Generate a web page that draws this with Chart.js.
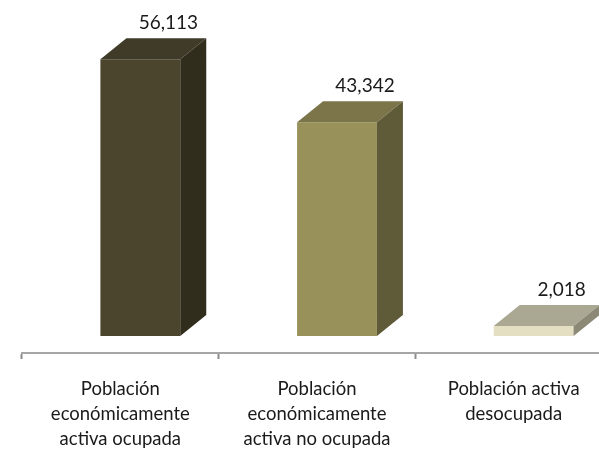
<!DOCTYPE html>
<html>
<head>
<meta charset="utf-8">
<script src="https://cdn.jsdelivr.net/npm/chart.js@4/dist/chart.umd.min.js"></script>
<style>
  html, body { margin: 0; padding: 0; background: #fff; overflow: hidden; }
  .wrap { position: absolute; left: 0; top: 0; width: 640px; height: 450px; }
</style>
</head>
<body>
<div class="wrap"><canvas id="chart"></canvas></div>
<script>
const categories = [
  ["Población", "económicamente", "activa ocupada"],
  ["Población", "económicamente", "activa no ocupada"],
  ["Población activa", "desocupada"]
];
const values = [56113, 43342, 2018];
const valueLabels = ["56,113", "43,342", "2,018"];

const frontColors = ["#4b452e", "#98915a", "#e4dfc3"];
const topColors = ["#3f3b28", "#7b7549", "#aaa792"];
const sideColors = ["#302d1d", "#5f5a38", "#8c8976"];

const depthX = 26;
const depthY = 21;
const frontShift = 20;

// draws top and side faces + value labels
const bars3d = {
  id: "bars3d",
  afterDatasetsUpdate(chart) {
    chart.getDatasetMeta(0).data.forEach((bar) => {
      bar.x += frontShift;
    });
  },
  afterDatasetsDraw(chart) {
    const ctx = chart.ctx;
    const meta = chart.getDatasetMeta(0);
    ctx.save();
    meta.data.forEach((bar, i) => {
      const left = bar.x - bar.width / 2;
      const right = bar.x + bar.width / 2;
      const top = bar.y;
      const base = bar.base;

      ctx.fillStyle = topColors[i];
      ctx.beginPath();
      ctx.moveTo(left, top);
      ctx.lineTo(left + depthX, top - depthY);
      ctx.lineTo(right + depthX, top - depthY);
      ctx.lineTo(right, top);
      ctx.closePath();
      ctx.fill();

      ctx.fillStyle = sideColors[i];
      ctx.beginPath();
      ctx.moveTo(right, top);
      ctx.lineTo(right + depthX, top - depthY);
      ctx.lineTo(right + depthX, base - depthY);
      ctx.lineTo(right, base);
      ctx.closePath();
      ctx.fill();

      ctx.fillStyle = "#1a1a1a";
      ctx.font = "19px Lato";
      ctx.textAlign = "center";
      ctx.textBaseline = "middle";
      ctx.fillText(valueLabels[i], bar.x + depthX + 2, top - depthY - 15);
    });
    ctx.restore();
  }
};

new Chart(document.getElementById("chart"), {
  type: "bar",
  data: {
    labels: categories,
    datasets: [
      {
        data: values,
        backgroundColor: frontColors,
        borderWidth: 0,
        barPercentage: 0.406,
        categoryPercentage: 1
      }
    ]
  },
  options: {
    responsive: true,
    maintainAspectRatio: false,
    animation: false,
    layout: { padding: { left: 22, right: 28, top: 40, bottom: 0 } },
    plugins: {
      legend: { display: false },
      tooltip: { enabled: false }
    },
    scales: {
      y: {
        display: false,
        min: -3444,
        max: 60000
      },
      x: {
        afterFit: (scale) => {
          scale.height = 97;
        },
        border: { display: true, color: "#a6a6a6", width: 2 },
        grid: {
          offset: true,
          drawOnChartArea: false,
          drawTicks: true,
          tickLength: 6,
          tickWidth: 2,
          tickColor: "#8c8c8c"
        },
        ticks: {
          color: "#1a1a1a",
          font: { family: "Lato", size: 18.5, lineHeight: 1.35 },
          padding: 18,
          maxRotation: 0,
          autoSkip: false
        }
      }
    }
  },
  plugins: [bars3d]
});
</script>
</body>
</html>
